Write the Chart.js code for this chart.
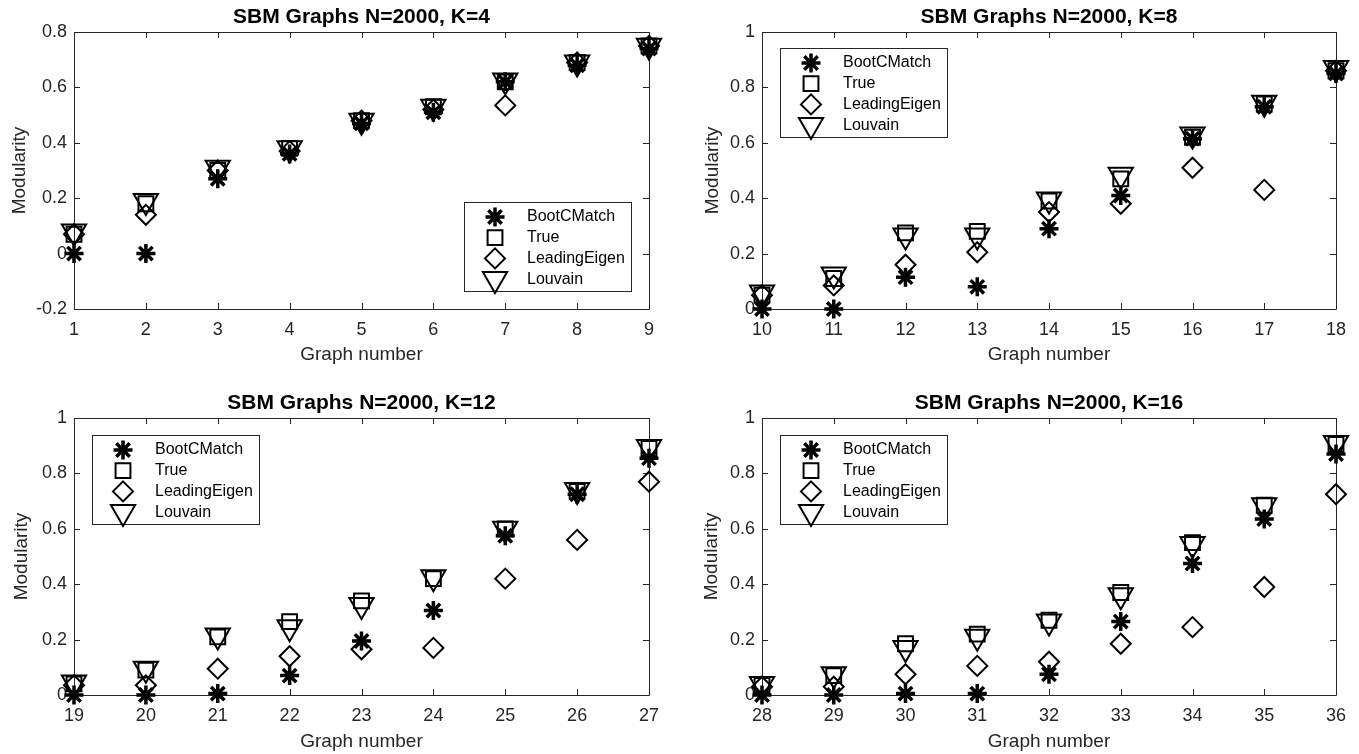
<!DOCTYPE html>
<html>
<head>
<meta charset="utf-8">
<title>SBM Graphs N=2000</title>
<script src="https://cdn.jsdelivr.net/npm/chart.js@4.4.1/dist/chart.umd.min.js"></script>
<style>
  html, body { margin: 0; padding: 0; background: #fff; }
  body { width: 1359px; height: 754px; position: relative; overflow: hidden; }
  .panel { position: absolute; }
</style>
</head>
<body>
<div class="panel" style="left:0px;top:0px;width:680px;height:377px"><canvas id="chartK4"></canvas></div>
<div class="panel" style="left:680px;top:0px;width:679px;height:377px"><canvas id="chartK8"></canvas></div>
<div class="panel" style="left:0px;top:386px;width:680px;height:368px"><canvas id="chartK12"></canvas></div>
<div class="panel" style="left:680px;top:386px;width:679px;height:368px"><canvas id="chartK16"></canvas></div>

<script>
// Daten: Modularity je Graph und Methode
const seriesNames = ["BootCMatch", "True", "LeadingEigen", "Louvain"];
const titles = ["SBM Graphs N=2000, K=4", "SBM Graphs N=2000, K=8", "SBM Graphs N=2000, K=12", "SBM Graphs N=2000, K=16"];

const graphsK4 = [1, 2, 3, 4, 5, 6, 7, 8, 9];
const bootK4 = [0.00, 0.00, 0.27, 0.36, 0.47, 0.51, 0.62, 0.68, 0.74];
const trueK4 = [0.07, 0.18, 0.30, 0.38, 0.48, 0.53, 0.62, 0.69, 0.75];
const eigenK4 = [0.07, 0.14, 0.30, 0.37, 0.48, 0.52, 0.535, 0.69, 0.75];
const louvainK4 = [0.08, 0.19, 0.31, 0.38, 0.48, 0.53, 0.625, 0.69, 0.75];

const graphsK8 = [10, 11, 12, 13, 14, 15, 16, 17, 18];
const bootK8 = [0.00, 0.00, 0.115, 0.08, 0.29, 0.41, 0.615, 0.73, 0.85];
const trueK8 = [0.05, 0.11, 0.275, 0.28, 0.39, 0.47, 0.62, 0.74, 0.86];
const eigenK8 = [0.05, 0.085, 0.16, 0.205, 0.35, 0.38, 0.51, 0.43, 0.86];
const louvainK8 = [0.06, 0.125, 0.265, 0.265, 0.395, 0.485, 0.63, 0.745, 0.87];

const graphsK12 = [19, 20, 21, 22, 23, 24, 25, 26, 27];
const bootK12 = [0.00, 0.00, 0.005, 0.07, 0.195, 0.305, 0.575, 0.725, 0.855];
const trueK12 = [0.04, 0.09, 0.21, 0.265, 0.34, 0.42, 0.60, 0.735, 0.89];
const eigenK12 = [0.035, 0.035, 0.095, 0.14, 0.165, 0.17, 0.42, 0.56, 0.77];
const louvainK12 = [0.045, 0.095, 0.215, 0.245, 0.325, 0.425, 0.60, 0.74, 0.895];

const graphsK16 = [28, 29, 30, 31, 32, 33, 34, 35, 36];
const bootK16 = [0.00, 0.00, 0.005, 0.005, 0.075, 0.265, 0.475, 0.635, 0.87];
const trueK16 = [0.035, 0.07, 0.185, 0.22, 0.27, 0.37, 0.55, 0.685, 0.905];
const eigenK16 = [0.03, 0.03, 0.075, 0.105, 0.12, 0.185, 0.245, 0.39, 0.725];
const louvainK16 = [0.04, 0.075, 0.17, 0.21, 0.265, 0.36, 0.545, 0.685, 0.91];

const yTicksK4 = { min: -0.2, max: 0.8, step: 0.2 };
const yTicksOther = { min: 0, max: 1, step: 0.2 };

// Marker wie in MATLAB: *, Quadrat, Raute, Dreieck nach unten
const markers = [
    { pointStyle: 'star', radius: 9.5, rotation: 0, borderWidth: 3.5 },
    { pointStyle: 'rect', radius: 10.5, rotation: 0, borderWidth: 2 },
    { pointStyle: 'rectRot', radius: 10, rotation: 0, borderWidth: 2 },
    { pointStyle: 'triangle', radius: 14, rotation: 180, borderWidth: 2 }
];

const FONT = '"Liberation Sans", Arial, Helvetica, sans-serif';
const AXIS_COLOR = '#262626';

// Achsenrahmen mit Ticks nach innen
const boxAxesPlugin = {
    id: 'boxAxes',
    beforeDatasetsDraw(chart) {
        const { ctx, chartArea: a, scales } = chart;
        const len = 6;
        ctx.save();
        ctx.strokeStyle = AXIS_COLOR;
        ctx.lineWidth = 1;
        ctx.beginPath();
        ctx.rect(a.left + 0.5, a.top + 0.5, a.right - a.left, a.bottom - a.top);
        scales.x.ticks.forEach(t => {
            const px = Math.round(scales.x.getPixelForValue(t.value)) + 0.5;
            ctx.moveTo(px, a.bottom);
            ctx.lineTo(px, a.bottom - len);
            ctx.moveTo(px, a.top);
            ctx.lineTo(px, a.top + len);
        });
        scales.y.ticks.forEach(t => {
            const py = Math.round(scales.y.getPixelForValue(t.value)) + 0.5;
            ctx.moveTo(a.left, py);
            ctx.lineTo(a.left + len, py);
            ctx.moveTo(a.right, py);
            ctx.lineTo(a.right - len, py);
        });
        ctx.stroke();
        ctx.restore();
    },
    // Titel mittig über dem Plotbereich
    afterDraw(chart, args, opts) {
        const { ctx, chartArea: a } = chart;
        ctx.save();
        ctx.fillStyle = '#000';
        ctx.font = 'bold 21px ' + FONT;
        ctx.textAlign = 'center';
        ctx.textBaseline = 'middle';
        ctx.fillText(opts.text, (a.left + a.right) / 2, a.top - 15);
        ctx.restore();
    }
};

// Legende im Plotbereich (Kasten)
const boxLegendPlugin = {
    id: 'boxLegend',
    afterDatasetsDraw(chart, args, opts) {
        const { ctx } = chart;
        const x = opts.x, y = opts.y, w = 167, h = 89;
        ctx.save();
        ctx.fillStyle = '#fff';
        ctx.fillRect(x, y, w, h);
        ctx.strokeStyle = AXIS_COLOR;
        ctx.lineWidth = 1;
        ctx.strokeRect(x + 0.5, y + 0.5, w, h);
        seriesNames.forEach((name, i) => {
            const rowY = y + 15 + i * 20.7;
            const m = markers[i];
            ctx.strokeStyle = '#000';
            ctx.fillStyle = 'rgba(0,0,0,0)';
            ctx.lineWidth = m.borderWidth;
            Chart.helpers.drawPoint(ctx, m, x + 31, rowY);
            ctx.fillStyle = '#000';
            ctx.font = '16px ' + FONT;
            ctx.textBaseline = 'middle';
            ctx.textAlign = 'left';
            ctx.fillText(name, x + 63, rowY);
        });
        ctx.restore();
    }
};

function makePanel(canvasId, title, graphs, values, yTicks, geo) {
    const datasets = values.map((vals, i) => ({
        label: seriesNames[i],
        data: graphs.map((g, j) => ({ x: g, y: vals[j] })),
        showLine: false,
        clip: false,
        pointStyle: markers[i].pointStyle,
        pointRadius: markers[i].radius,
        pointRotation: markers[i].rotation,
        pointBorderWidth: markers[i].borderWidth,
        pointBorderColor: '#000',
        pointBackgroundColor: 'rgba(0,0,0,0)'
    }));

    const box = geo.box, area = geo.area;
    const titleLine = 19 * 1.2;
    const padLeft = geo.yTitleX - box.left - titleLine / 2;

    return new Chart(document.getElementById(canvasId), {
        type: 'scatter',
        data: { datasets },
        plugins: [boxAxesPlugin, boxLegendPlugin],
        options: {
            responsive: true,
            maintainAspectRatio: false,
            animation: false,
            events: [],
            layout: {
                padding: { left: padLeft, right: box.left + box.w - area.r, top: area.t - box.top, bottom: 0 }
            },
            scales: {
                x: {
                    type: 'linear',
                    min: graphs[0],
                    max: graphs[graphs.length - 1],
                    grid: { display: false, drawTicks: false },
                    border: { display: false },
                    ticks: { stepSize: 1, padding: 10, color: AXIS_COLOR, font: { family: FONT, size: 18 } },
                    title: {
                        display: true, text: 'Graph number', color: AXIS_COLOR,
                        font: { family: FONT, size: 19 },
                        padding: { top: 0, bottom: box.top + box.h - geo.xTitleY - titleLine / 2 }
                    },
                    afterFit: scale => { scale.height = box.top + box.h - area.b; }
                },
                y: {
                    type: 'linear',
                    min: yTicks.min,
                    max: yTicks.max,
                    grid: { display: false, drawTicks: false },
                    border: { display: false },
                    ticks: {
                        stepSize: yTicks.step, padding: 7, color: AXIS_COLOR, font: { family: FONT, size: 18 },
                        callback: v => String(Number(v.toFixed(1)))
                    },
                    title: {
                        display: true, text: 'Modularity', color: AXIS_COLOR,
                        font: { family: FONT, size: 19 },
                        padding: { top: 0, bottom: 0 }
                    },
                    afterFit: scale => { scale.width = area.l - box.left - padLeft; }
                }
            },
            plugins: {
                legend: { display: false },
                tooltip: { enabled: false },
                title: { display: false },
                boxAxes: { text: title },
                boxLegend: { x: geo.legend.x - box.left, y: geo.legend.y - box.top }
            }
        }
    });
}

makePanel('chartK4', titles[0], graphsK4, [bootK4, trueK4, eigenK4, louvainK4], yTicksK4, {
    box: { left: 0, top: 0, w: 680, h: 377 },
    area: { l: 74, t: 32, r: 649, b: 309 },
    yTitleX: 20, xTitleY: 355,
    legend: { x: 464, y: 202 }
});
makePanel('chartK8', titles[1], graphsK8, [bootK8, trueK8, eigenK8, louvainK8], yTicksOther, {
    box: { left: 680, top: 0, w: 679, h: 377 },
    area: { l: 762, t: 32, r: 1336, b: 309 },
    yTitleX: 713, xTitleY: 355,
    legend: { x: 780, y: 48 }
});
makePanel('chartK12', titles[2], graphsK12, [bootK12, trueK12, eigenK12, louvainK12], yTicksOther, {
    box: { left: 0, top: 386, w: 680, h: 368 },
    area: { l: 74, t: 418, r: 649, b: 695 },
    yTitleX: 22, xTitleY: 742,
    legend: { x: 92, y: 435 }
});
makePanel('chartK16', titles[3], graphsK16, [bootK16, trueK16, eigenK16, louvainK16], yTicksOther, {
    box: { left: 680, top: 386, w: 679, h: 368 },
    area: { l: 762, t: 418, r: 1336, b: 695 },
    yTitleX: 712, xTitleY: 742,
    legend: { x: 780, y: 435 }
});
</script>
</body>
</html>
